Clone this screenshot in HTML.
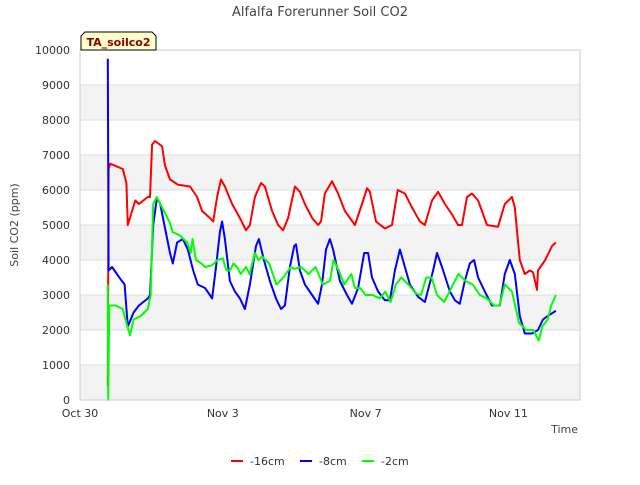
<!DOCTYPE html>
<html><head><meta charset="utf-8"><style>
body{margin:0;background:#fff;font-family:"Liberation Sans","DejaVu Sans",sans-serif;}
svg text{font-family:"DejaVu Sans","Liberation Sans",sans-serif;}
</style></head><body>
<svg id="chart" width="640" height="480" xmlns="http://www.w3.org/2000/svg">
<text x="320" y="16" text-anchor="middle" font-size="13" fill="#444">Alfalfa Forerunner Soil CO2</text>
<g id="bands"></g><g id="grid"></g><g id="series"></g><g id="axes"></g>
<text transform="translate(18,225) rotate(-90)" text-anchor="middle" font-size="11" fill="#444">Soil CO2 (ppm)</text>
<text x="578" y="433" text-anchor="end" font-size="11" fill="#444">Time</text>
<g>
<path d="M81,50 L81,36 L85,32 L152,32 L156,36 L156,50 Z" fill="#ffffcc" stroke="#000" stroke-width="1"/>
<text x="118.5" y="46" text-anchor="middle" font-size="11" font-weight="bold" fill="#8b0000">TA_soilco2</text>
</g>
<g>
<g><line x1="231" y1="461" x2="243" y2="461" stroke="#ff0000" stroke-width="2"/><text x="250" y="465" font-size="11" fill="#333">-16cm</text></g>
<g><line x1="300" y1="461" x2="312" y2="461" stroke="#0000ff" stroke-width="2"/><text x="319" y="465" font-size="11" fill="#333">-8cm</text></g>
<g><line x1="362" y1="461" x2="374" y2="461" stroke="#00ff00" stroke-width="2"/><text x="381" y="465" font-size="11" fill="#333">-2cm</text></g>
</g>
</svg>
<script>
const yTicks=[0,1000,2000,3000,4000,5000,6000,7000,8000,9000,10000];
const xTickDays=[0,4,8,12];
const xTickLabels=["Oct 30","Nov 3","Nov 7","Nov 11"];
const redT=[0.78,0.80,0.85,1.2,1.3,1.34,1.55,1.65,1.9,1.96,2.02,2.1,2.3,2.38,2.52,2.75,3.08,3.28,3.42,3.64,3.73,3.84,3.95,4.06,4.26,4.48,4.65,4.76,4.9,5.07,5.18,5.38,5.55,5.69,5.83,6.02,6.16,6.3,6.5,6.67,6.75,6.86,7.06,7.23,7.42,7.7,7.9,8.04,8.12,8.29,8.54,8.74,8.9,9.1,9.3,9.52,9.66,9.86,10.03,10.22,10.42,10.59,10.7,10.84,10.98,11.15,11.4,11.71,11.9,12.1,12.18,12.32,12.46,12.6,12.69,12.8,12.83,13.03,13.22,13.33];
const redV=[400,6600,6750,6600,6200,5000,5700,5600,5800,5800,7300,7400,7250,6700,6300,6150,6100,5800,5400,5200,5100,5800,6300,6100,5600,5200,4850,5000,5800,6200,6100,5400,5000,4850,5200,6100,5950,5600,5200,5000,5100,5900,6250,5900,5400,5000,5600,6050,5950,5100,4900,5000,6000,5900,5500,5100,5000,5700,5950,5600,5300,5000,5000,5800,5900,5700,5000,4950,5600,5800,5500,4000,3600,3700,3650,3150,3700,4000,4400,4500];
const blueT=[0.78,0.80,0.9,1.1,1.25,1.34,1.5,1.65,1.9,1.96,2.05,2.15,2.24,2.52,2.6,2.72,2.88,3.02,3.17,3.3,3.5,3.64,3.7,3.81,3.92,3.98,4.06,4.2,4.34,4.48,4.62,4.76,4.93,5.01,5.15,5.32,5.49,5.63,5.74,5.88,6.0,6.05,6.16,6.3,6.5,6.67,6.78,6.89,7.0,7.09,7.28,7.48,7.62,7.79,7.96,8.07,8.18,8.35,8.54,8.68,8.82,8.96,9.1,9.24,9.47,9.66,9.89,10.0,10.14,10.36,10.5,10.64,10.78,10.92,11.04,11.15,11.34,11.54,11.76,11.9,12.04,12.18,12.32,12.46,12.66,12.83,12.97,13.1,13.33];
const blueV=[9750,3700,3800,3500,3300,2100,2500,2700,2900,3000,5000,5750,5630,4200,3900,4500,4600,4300,3700,3300,3200,3000,2900,3800,4800,5100,4600,3400,3100,2900,2600,3300,4400,4600,4000,3400,2900,2600,2700,3800,4400,4450,3700,3300,3000,2750,3300,4300,4600,4300,3400,3000,2750,3200,4200,4200,3500,3100,2850,2850,3700,4300,3800,3300,2950,2800,3700,4200,3800,3100,2850,2750,3400,3900,4000,3500,3100,2700,2700,3600,4000,3600,2400,1900,1900,2000,2300,2400,2550];
const greenT=[0.78,0.79,0.82,1.0,1.2,1.3,1.4,1.5,1.7,1.9,1.98,2.05,2.15,2.3,2.5,2.6,2.8,3.0,3.1,3.15,3.25,3.4,3.5,3.7,3.85,4.0,4.1,4.2,4.3,4.4,4.5,4.65,4.75,4.9,5.0,5.1,5.3,5.5,5.7,5.9,6.0,6.2,6.4,6.6,6.8,7.0,7.1,7.25,7.4,7.6,7.7,7.85,8.0,8.2,8.4,8.55,8.7,8.85,9.0,9.2,9.4,9.55,9.7,9.85,10.0,10.2,10.4,10.6,10.8,11.0,11.2,11.4,11.6,11.75,11.9,12.1,12.3,12.5,12.7,12.85,12.95,13.1,13.2,13.33];
const greenV=[3300,0,2700,2700,2600,2200,1850,2300,2400,2600,3000,5600,5800,5500,5100,4800,4700,4500,4200,4600,4000,3900,3800,3850,4000,4050,3700,3700,3900,3800,3600,3800,3600,4200,4000,4100,3900,3300,3500,3800,3750,3800,3600,3800,3300,3400,4000,3700,3300,3600,3200,3200,3000,3000,2900,3100,2800,3300,3500,3300,3050,3000,3500,3500,3000,2800,3200,3600,3400,3300,3000,2900,2700,2700,3300,3100,2200,2000,2000,1700,2100,2300,2700,3000];
const NS="http://www.w3.org/2000/svg";
const X0=80,X1=580,Y0=400,Y1=50;
function xs(d){return X0+d*35.7;}
function ys(v){return Y0-(v/10000)*(Y0-Y1);}
function mk(tag,attrs,parent){const e=document.createElementNS(NS,tag);for(const k in attrs)e.setAttribute(k,attrs[k]);parent.appendChild(e);return e;}
const bands=document.getElementById('bands'),grid=document.getElementById('grid'),axes=document.getElementById('axes'),series=document.getElementById('series');
const bg=mk('rect',{x:X0,y:Y1,width:X1-X0,height:Y0-Y1,fill:'#fff'},bands);


for(let i=1;i<yTicks.length;i+=2){
  const b=mk('rect',{x:X0,y:ys(yTicks[i]),width:X1-X0,height:ys(yTicks[i-1])-ys(yTicks[i]),fill:'#f3f3f3'},bands);
  
  
}
yTicks.forEach(v=>{
  const l=mk('line',{x1:X0,x2:X1,y1:ys(v),y2:ys(v),stroke:'#ddd','stroke-width':1},grid);
  
  
  const t=mk('text',{x:X0-10,y:ys(v)+4,'text-anchor':'end','font-size':11,fill:'#333'},axes);
  t.textContent=v;
  
  
});
const bx=mk('rect',{x:X0,y:Y1,width:X1-X0,height:Y0-Y1,fill:'none',stroke:'#ccc'},axes);


xTickDays.forEach((d,i)=>{
  const t=mk('text',{x:xs(d),y:Y0+17,'text-anchor':'middle','font-size':11,fill:'#333'},axes);
  t.textContent=xTickLabels[i];
  
  
});
function line(T,V,color,name){
  const p=mk('polyline',{points:T.map((t,i)=>xs(t).toFixed(1)+','+ys(V[i]).toFixed(1)).join(' '),fill:'none',stroke:color,'stroke-width':2,'stroke-linejoin':'round'},series);
  
  
}
line(redT,redV,'#ff0000','series-16cm');
line(blueT,blueV,'#0000ff','series-8cm');
line(greenT,greenV,'#00ff00','series-2cm');
</script>
</body></html>
